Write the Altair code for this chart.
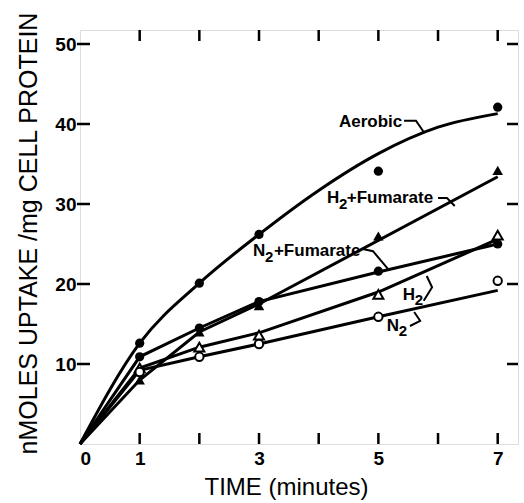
import altair as alt
import pandas as pd

# ---- data ----
times = [1, 2, 3, 5, 7]
aerobic_pts = [12.6, 20.1, 26.2, 34.1, 42.1]
h2fum_pts = [8.0, 14.0, 17.3, 26.0, 34.2]
n2fum_pts = [10.9, 14.5, 17.8, 21.6, 25.0]
h2_pts = [9.5, 12.1, 13.6, 18.7, 26.1]
n2_pts = [9.0, 10.9, 12.5, 15.9, 20.4]

# drawn (fitted) lines
aerobic_curve_t = [0, 1, 2, 3, 4, 5, 6, 7]
aerobic_curve_v = [0, 12.6, 20.1, 26.2, 31.7, 36.3, 39.6, 41.3]
h2fum_line_t = [0, 1, 2, 3, 7]
h2fum_line_v = [0, 8.0, 14.0, 17.5, 33.4]
n2fum_line_t = [0, 1, 2, 3, 5, 7]
n2fum_line_v = [0, 10.9, 14.5, 17.8, 21.5, 25.0]
h2_line_t = [0, 1, 2, 3, 5, 7]
h2_line_v = [0, 9.5, 12.1, 13.9, 19.0, 25.6]
n2_line_t = [0, 1, 2, 3, 5, 7]
n2_line_v = [0, 9.2, 10.9, 12.5, 15.9, 19.2]

x_tick_values = [1, 2, 3, 4, 5, 6, 7]
x_label_values = [0, 1, 3, 5, 7]
y_tick_values = [10, 20, 30, 40, 50]

# annotation text pieces (text, t, value, size)
label_text = ["Aerobic", "H", "2", "+Fumarate", "N", "2", "+Fumarate", "H", "2", "N", "2"]
label_t = [4.34, 4.14, 4.34, 4.47, 2.90, 3.10, 3.25, 5.41, 5.61, 5.14, 5.34]
label_v = [40.25, 30.75, 30.0, 30.75, 24.1, 23.4, 24.1, 18.6, 18.0, 14.75, 14.1]
label_size = [17, 17, 15, 17, 17, 15, 17, 17, 15, 17, 15]

# leader hooks
hook_id = ["a"] * 3 + ["b"] * 3 + ["c"] * 3 + ["d"] * 3 + ["e"] * 3
hook_ord = [0, 1, 2] * 5
hook_t = [5.43, 5.63, 5.76, 6.0, 6.15, 6.28, 4.72, 4.91, 5.16, 5.76, 5.90, 5.81, 5.53, 5.70, 5.60]
hook_v = [40.4, 40.4, 39.0, 30.75, 30.75, 29.75, 24.4, 24.1, 21.9, 17.9, 19.6, 21.0, 14.75, 15.4, 16.5]

W, H = 438, 414
xs = alt.Scale(domain=[0, 7.34], nice=False, zero=False)
ys = alt.Scale(domain=[0, 51.75], nice=False, zero=False)
FONT = "Liberation Sans"


def line_df(name, t, v):
    return pd.DataFrame({"series": name, "t": t, "v": v})


lines_lin = pd.concat([
    line_df("H2+Fumarate", h2fum_line_t, h2fum_line_v),
    line_df("N2+Fumarate", n2fum_line_t, n2fum_line_v),
    line_df("H2", h2_line_t, h2_line_v),
    line_df("N2", n2_line_t, n2_line_v),
])
curve = line_df("Aerobic", aerobic_curve_t, aerobic_curve_v)

X = alt.X("t:Q", scale=xs, axis=alt.Axis(
    values=x_label_values, format="d", ticks=False, domain=False, grid=False,
    labelFont=FONT, labelFontSize=19, labelFontWeight="bold", labelColor="black",
    labelPadding=5, labelBaseline="top",
    title="TIME (minutes)", titleFont=FONT, titleFontSize=24, titleFontWeight="normal",
    titleColor="black", titleX=206, titleY=43, titleAlign="center", titleBaseline="middle"))
Y = alt.Y("v:Q", scale=ys, axis=alt.Axis(
    values=y_tick_values, format="d", ticks=False, domain=False, grid=False,
    labelFont=FONT, labelFontSize=19, labelFontWeight="bold", labelColor="black",
    labelPadding=4, labelBaseline="middle",
    title="nMOLES UPTAKE /mg CELL PROTEIN", titleFont=FONT, titleFontSize=25,
    titleFontWeight="normal", titleColor="black", titleAngle=270,
    titleX=-52, titleY=203, titleAlign="center", titleBaseline="middle"))

base_lines = alt.Chart(lines_lin).mark_line(color="black", strokeWidth=3).encode(
    x=X, y=Y, detail="series:N")
curve_line = alt.Chart(curve).mark_line(color="black", strokeWidth=3, interpolate="monotone").encode(
    x=alt.X("t:Q", scale=xs), y=alt.Y("v:Q", scale=ys))


def pts(vals):
    return pd.DataFrame({"t": times, "v": vals})


filled_circles = alt.Chart(pd.concat([pts(aerobic_pts), pts(n2fum_pts)])).mark_point(
    shape="circle", filled=True, color="black", size=85, opacity=1).encode(
    x=alt.X("t:Q", scale=xs), y=alt.Y("v:Q", scale=ys))
filled_tri = alt.Chart(pts(h2fum_pts)).mark_point(
    shape="triangle-up", filled=True, color="black", size=110, opacity=1).encode(
    x=alt.X("t:Q", scale=xs), y=alt.Y("v:Q", scale=ys))
open_tri = alt.Chart(pts(h2_pts)).mark_point(
    shape="triangle-up", filled=True, fill="white", stroke="black", strokeWidth=2,
    size=100, opacity=1).encode(x=alt.X("t:Q", scale=xs), y=alt.Y("v:Q", scale=ys))
open_circ = alt.Chart(pts(n2_pts)).mark_point(
    shape="circle", filled=True, fill="white", stroke="black", strokeWidth=2,
    size=70, opacity=1).encode(x=alt.X("t:Q", scale=xs), y=alt.Y("v:Q", scale=ys))

labels = alt.Chart(pd.DataFrame({"text": label_text, "t": label_t, "v": label_v, "size": label_size})).mark_text(
    font=FONT, fontWeight="bold", align="left", baseline="middle", color="black").encode(
    x=alt.X("t:Q", scale=xs), y=alt.Y("v:Q", scale=ys), text="text:N",
    size=alt.Size("size:Q", scale=None, legend=None))
hooks = alt.Chart(pd.DataFrame({"id": hook_id, "ord": hook_ord, "t": hook_t, "v": hook_v})).mark_line(
    color="black", strokeWidth=2).encode(
    x=alt.X("t:Q", scale=xs), y=alt.Y("v:Q", scale=ys), detail="id:N",
    order=alt.Order("ord:Q", sort="ascending"))

xt = pd.DataFrame({"t": x_tick_values})
yt = pd.DataFrame({"v": y_tick_values})
top_ticks = alt.Chart(xt).mark_rule(color="black", strokeWidth=2.5).encode(
    x=alt.X("t:Q", scale=xs), y=alt.value(0), y2=alt.value(11))
bottom_ticks = alt.Chart(xt).mark_rule(color="black", strokeWidth=2.5).encode(
    x=alt.X("t:Q", scale=xs), y=alt.value(H), y2=alt.value(H - 11))
left_ticks = alt.Chart(yt).mark_rule(color="black", strokeWidth=2.5).encode(
    y=alt.Y("v:Q", scale=ys), x=alt.value(-3), x2=alt.value(10))
right_ticks = alt.Chart(yt).mark_rule(color="black", strokeWidth=2.5).encode(
    y=alt.Y("v:Q", scale=ys), x=alt.value(W), x2=alt.value(W - 11))

chart = alt.layer(
    base_lines, curve_line, top_ticks, bottom_ticks, left_ticks, right_ticks,
    hooks, filled_circles, filled_tri, open_tri, open_circ, labels,
).properties(
    width=W, height=H,
    padding={"left": 80, "top": 30, "right": 6, "bottom": 59},
    autosize=alt.AutoSizeParams(type="none"),
).configure_view(stroke="black", strokeWidth=2.5).configure(background="white")

chart.save("out.html", embed_options={"renderer": "svg", "actions": False})
